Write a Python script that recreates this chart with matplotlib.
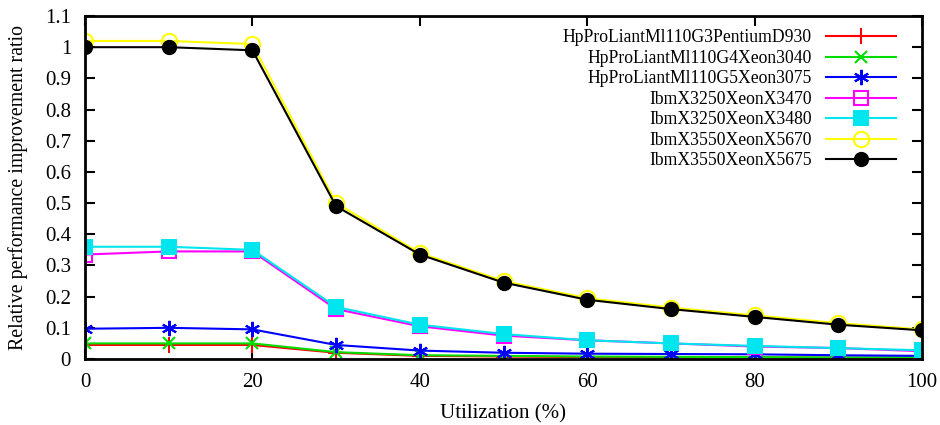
import numpy as np
import matplotlib.pyplot as plt

plt.rcParams['font.family'] = ['Liberation Serif', 'DejaVu Serif']

util = [0, 10, 20, 30, 40, 50, 60, 70, 80, 90, 100]

g3_d930 = [0.045, 0.045, 0.045, 0.02, 0.01, 0.008, 0.006, 0.005, 0.005, 0.004, 0.004]
g4_x3040 = [0.05, 0.05, 0.05, 0.022, 0.012, 0.01, 0.008, 0.007, 0.006, 0.005, 0.005]
g5_x3075 = [0.097, 0.1, 0.095, 0.045, 0.027, 0.02, 0.017, 0.016, 0.015, 0.012, 0.01]
x3250_3470 = [0.335, 0.345, 0.345, 0.16, 0.105, 0.075, 0.06, 0.05, 0.04, 0.035, 0.025]
x3250_3480 = [0.36, 0.36, 0.35, 0.167, 0.11, 0.08, 0.06, 0.05, 0.042, 0.035, 0.028]
x3550_5670 = [1.02, 1.02, 1.01, 0.5, 0.34, 0.25, 0.195, 0.165, 0.14, 0.115, 0.095]
x3550_5675 = [1.0, 1.0, 0.99, 0.49, 0.335, 0.245, 0.19, 0.16, 0.135, 0.11, 0.092]

labels = ['HpProLiantMl110G3PentiumD930', 'HpProLiantMl110G4Xeon3040',
          'HpProLiantMl110G5Xeon3075', 'IbmX3250XeonX3470', 'IbmX3250XeonX3480',
          'IbmX3550XeonX5670', 'IbmX3550XeonX5675']
series = [g3_d930, g4_x3040, g5_x3075, x3250_3470, x3250_3480, x3550_5670, x3550_5675]

# estils semblants als de gnuplot
styles = [
    dict(color='#ff0000', marker='+', ms=11, mew=1.5, mfc='none'),
    dict(color='#00dd00', marker='x', ms=9, mew=1.5, mfc='none'),
    dict(color='#0000ff', marker=(6, 2, 0), ms=11, mew=1.5, mfc='none'),
    dict(color='#ff00ff', marker='s', ms=10, mew=1.5, mfc='none'),
    dict(color='#00e5ee', marker='s', ms=12, mew=0),
    dict(color='#ffff00', marker='o', ms=11, mew=1.5, mfc='none'),
    dict(color='#000000', marker='o', ms=11, mew=0),
]

fig = plt.figure(figsize=(9.4, 4.25), dpi=100)
ax = fig.add_axes([85/940, 1 - 359/425, (922-85)/940, (359-16)/425])

for y, lab, st in zip(series, labels, styles):
    ax.plot(util, y, label=lab, lw=1.5, **st)

ax.set_xlim(0, 100)
ax.set_ylim(0, 1.1)
ax.set_xticks(np.arange(0, 101, 20))
ax.set_yticks(np.arange(0, 1.11, 0.1))
ax.set_yticklabels(['0', '0.1', '0.2', '0.3', '0.4', '0.5', '0.6', '0.7', '0.8', '0.9', '1', '1.1'])
ax.tick_params(direction='in', length=7, width=1.5, top=True, right=True, labelsize=15, pad=10)
for s in ax.spines.values():
    s.set_linewidth(2)
ax.set_xlabel('Utilization (%)', fontsize=15, labelpad=9)
ax.set_ylabel('Relative performance improvement ratio', fontsize=14.3, labelpad=12)

leg = ax.legend(loc='upper right', bbox_to_anchor=(0.985, 1.0), frameon=False,
                fontsize=12.7, handlelength=4.0, markerfirst=False,
                labelspacing=0.2, borderaxespad=0.35)

fig.savefig('out.png', dpi=100)
